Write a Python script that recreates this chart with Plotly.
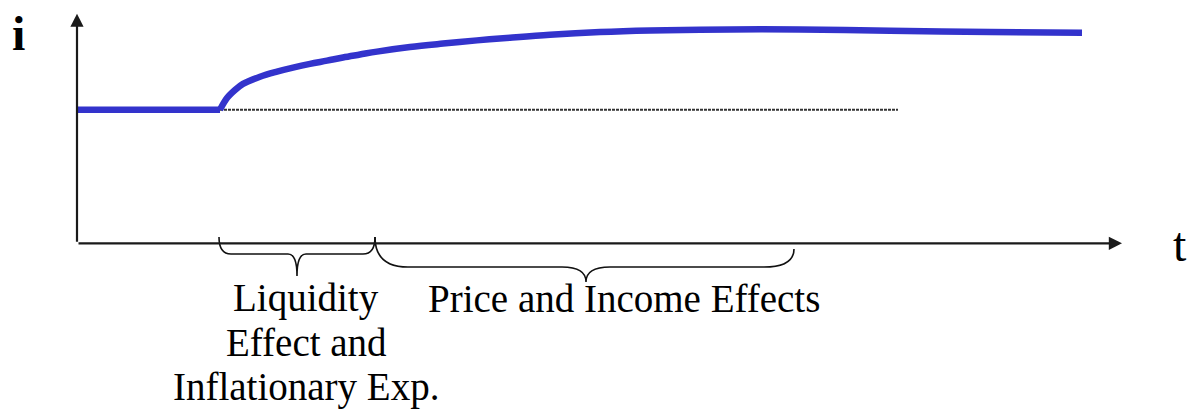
import plotly.graph_objects as go

# ---- data (time units, interest-rate units) ----
t_path = [0, 1.43, 1.50, 1.58, 1.66, 1.83, 2.00, 2.16, 2.33, 2.50, 2.66, 2.83,
          3.00, 3.33, 3.66, 4.00, 4.33, 4.73, 5.23, 5.73, 6.23, 7.23, 8.13, 9.13, 10.05]
i_path = [5.0, 5.0, 5.44, 5.74, 5.97, 6.24, 6.43, 6.58, 6.72, 6.84, 6.96, 7.07,
          7.18, 7.35, 7.48, 7.60, 7.70, 7.81, 7.91, 7.97, 8.00, 8.01, 7.96, 7.91, 7.89]
shock_index = 1             # point where the rise begins
ref_t = [1.43, 8.21]        # dotted reference level (initial i)
ref_i = [5.0, 5.0]
x_axis_end = 10.45
y_axis_end = 8.60
brace_spans = [(1.42, 2.98), (2.98, 7.17)]
brace_tips = [2.20, 5.09]
brace_labels = [["Liquidity", "Effect and", "Inflationary Exp."],
                ["Price and Income Effects"]]
x_label = "t"
y_label = "i"

BLUE = "#3333cc"
FONT = "Liberation Serif, Times New Roman, serif"

fig = go.Figure()
fig.add_trace(go.Scatter(x=ref_t, y=ref_i, mode="lines",
                         line=dict(color="#333333", width=2, dash="3px,1px"),
                         hoverinfo="skip"))
fig.add_trace(go.Scatter(x=t_path[:shock_index + 1], y=i_path[:shock_index + 1], mode="lines",
                         line=dict(color=BLUE, width=6.5),
                         hoverinfo="skip"))
fig.add_trace(go.Scatter(x=t_path[shock_index:], y=i_path[shock_index:], mode="lines",
                         line=dict(color=BLUE, width=6.5, shape="spline", smoothing=1.0),
                         hoverinfo="skip"))

# axes with arrowheads
fig.add_annotation(x=x_axis_end, y=0, ax=0, ay=0, xref="x", yref="y", axref="x", ayref="y",
                   showarrow=True, arrowhead=2, arrowsize=1.2, arrowwidth=2.2,
                   arrowcolor="#1a1a1a", text="")
fig.add_annotation(x=0, y=y_axis_end, ax=0, ay=0, xref="x", yref="y", axref="x", ayref="y",
                   showarrow=True, arrowhead=2, arrowsize=1.2, arrowwidth=2.2,
                   arrowcolor="#1a1a1a", text="")

# braces
brace_geom = [
    # top_left, top_right, hline, tip, end radius L, end radius R, mid radius
    (0.24, 0.24, -0.40, -1.22, 0.12, 0.12, 0.09),
    (0.24, -0.21, -0.89, -1.45, 0.33, 0.30, 0.24),
]
for (a, b), m, g in zip(brace_spans, brace_tips, brace_geom):
    tl, tr, h, tip, rl, rr, rm = g
    path = (f"M {a},{tl} Q {a},{h} {a+rl},{h} L {m-rm},{h} Q {m},{h} {m},{tip} "
            f"Q {m},{h} {m+rm},{h} L {b-rr},{h} Q {b},{h} {b},{tr}")
    fig.add_shape(type="path", path=path, xref="x", yref="y",
                  line=dict(color="#111111", width=1.6))

label_y = [-2.05, -3.72, -5.38]
for k, line in enumerate(brace_labels[0]):
    fig.add_annotation(x=2.29, y=label_y[k], text=line, showarrow=False,
                       xref="x", yref="y", font=dict(family=FONT, size=39, color="black"))
fig.add_annotation(x=5.47, y=label_y[0], text=brace_labels[1][0], showarrow=False,
                   xref="x", yref="y", font=dict(family=FONT, size=39, color="black"))

fig.add_annotation(x=-0.59, y=7.85, text=f"<b>{y_label}</b>", showarrow=False,
                   xref="x", yref="y", font=dict(family=FONT, size=48, color="black"))
fig.add_annotation(x=11.03, y=-0.05, text=x_label, showarrow=False,
                   xref="x", yref="y", font=dict(family=FONT, size=48, color="black"))

fig.update_layout(
    width=1202, height=414,
    margin=dict(l=0, r=0, t=0, b=0, pad=0, autoexpand=False),
    paper_bgcolor="white", plot_bgcolor="white",
    showlegend=False,
    xaxis=dict(range=[-0.77, 11.25], visible=False, fixedrange=True),
    yaxis=dict(range=[-6.393, 9.112], visible=False, fixedrange=True),
)
fig.write_html("out.html", config={"displayModeBar": False},
               post_script="document.body.style.margin='0px';document.body.style.overflow='hidden';")
